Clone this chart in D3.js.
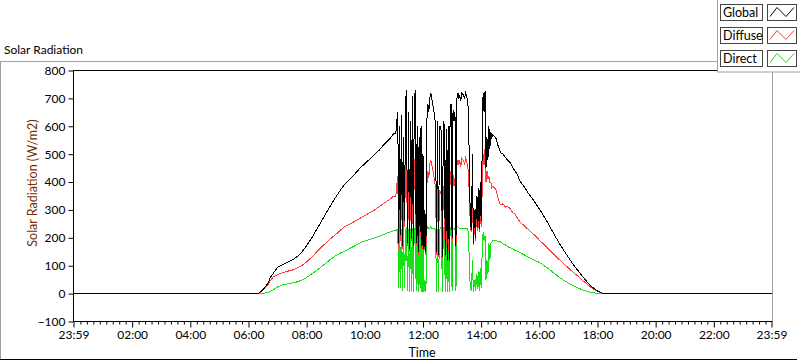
<!DOCTYPE html>
<html><head><meta charset="utf-8">
<script src="https://cdn.jsdelivr.net/npm/d3@7"></script>
<style>
body{margin:0;background:#fff;}
svg{display:block;font-family:Lato,"Noto Sans",sans-serif;}
</style></head>
<body><svg id="chart" width="800" height="361"></svg>
<script>
// ---- data (time in minutes after midnight) ----
const xTickLabels = ["23:59","02:00","04:00","06:00","08:00","10:00","12:00","14:00","16:00","18:00","20:00","22:00","23:59"];
const xTickValues = [-1,120,240,360,480,600,720,840,960,1080,1200,1320,1439];
const yTickValues = [-100,0,100,200,300,400,500,600,700,800];
const seriesNames = ["Global","Diffuse","Direct"];
const seriesColors = ["#000000","#ff3c3c","#16e016"];

const riseTimes   = [-1,375,380,390,400,405,410,415,420,430,440,450,460,470,480,490,500,510,520,530,540,550,560,570,580,590,600,610,620,630,640,650,660];
const riseGlobal  = [0,0,0,14,36,58,70,82,95,104,112,120,132,148,172,198,228,258,288,318,346,372,395,412,430,450,466,482,498,515,536,552,574];
const riseDiffuse = [0,0,0,12,30,46,58,64,68,75,80,84,91,101,114,130,148,166,182,198,212,228,242,250,260,270,280,290,300,312,325,336,350];
const riseDirect  = [0,0,0,1,4,8,12,18,24,31,35,38,42,48,58,70,82,96,110,124,136,146,153,163,172,182,188,194,200,206,213,220,226];

// cloudy period, 2-minute samples from 11:04 to 14:24
const spikeStart = 664, spikeStep = 2;
const spikeGlobal  = [575,620,650,180,600,210,640,170,560,260,690,730,180,650,160,620,200,710,170,680,
                      730,180,600,150,560,220,600,170,500,160,300,150,620,680,650,700,720,700,680,660,
                      640,600,150,620,140,600,600,580,130,620,600,140,590,120,600,120,660,680,200,660,
                      620,650,170,700,720,700,710,690,720,715,710,700,720,710,690,650,400,250,230,500,
                      180,300,200,350,240,380,230,400,260,500,720,650,725,450,560,480,600,520,580,560,570];
const spikeDiffuse = [350,390,420,160,370,190,410,160,330,240,460,495,170,420,150,390,190,475,160,445,
                      495,170,365,140,330,200,370,160,300,150,250,140,390,440,415,465,480,465,445,425,
                      410,370,140,390,130,370,365,350,125,385,370,130,360,115,365,115,425,440,190,425,
                      385,415,160,460,480,465,475,455,485,480,475,465,485,475,460,430,330,230,220,380,
                      175,250,190,280,225,300,220,310,240,360,500,460,520,400,440,410,420,400,400,380,385];
const spikeDirect  = [225,230,230,20,230,20,230,10,230,20,230,235,10,230,5,230,10,235,5,235,
                      235,10,235,5,230,20,230,5,200,5,50,5,230,240,235,235,240,235,235,235,
                      230,230,5,230,5,230,235,230,5,235,230,5,230,5,235,5,235,240,10,235,
                      235,235,10,240,240,235,235,235,235,235,235,235,235,235,230,220,70,20,10,120,
                      5,50,10,70,15,80,10,90,20,140,220,190,205,50,120,70,180,120,180,185,190];

const fallTimes   = [870,875,880,885,890,895,900,905,910,915,920,930,940,950,960,970,980,990,1000,1010,1020,1030,1040,1050,1060,1070,1080,1090,1095,1439];
const fallGlobal  = [560,530,505,500,488,478,470,452,440,425,404,380,353,330,304,276,246,214,184,156,130,104,82,60,39,22,9,2,0,0];
const fallDiffuse = [375,340,318,322,310,312,305,290,285,270,257,242,225,210,192,175,158,140,124,108,92,76,62,46,32,18,8,2,0,0];
const fallDirect  = [190,188,185,178,175,168,165,160,155,152,147,138,128,120,112,100,88,74,60,48,38,28,20,13,7,3,1,0,0,0];

// ---- assemble series ----
const spikeTimes = spikeGlobal.map((_, i) => spikeStart + i * spikeStep);
function build(rise, spike, fall) {
  const pts = [];
  riseTimes.forEach((t, i) => pts.push([t, rise[i]]));
  spikeTimes.forEach((t, i) => pts.push([t, spike[i]]));
  fallTimes.forEach((t, i) => pts.push([t, fall[i]]));
  return pts;
}
const series = [
  build(riseGlobal, spikeGlobal, fallGlobal),
  build(riseDiffuse, spikeDiffuse, fallDiffuse),
  build(riseDirect, spikeDirect, fallDirect)
];

// ---- drawing ----
const FONT = "Lato";
const svg = d3.select("#chart");
const x = d3.scaleLinear().domain([-1, 1439]).range([73.5, 771.5]);
const y = d3.scaleLinear().domain([-100, 800]).range([321.5, 70.5]);

// outer frame
svg.append("line").attr("x1",0).attr("x2",717).attr("y1",61.5).attr("y2",61.5).attr("stroke","#a0a0a0");
svg.append("line").attr("x1",0.5).attr("x2",0.5).attr("y1",61.5).attr("y2",360).attr("stroke","#a0a0a0");
svg.append("line").attr("x1",0).attr("x2",797).attr("y1",359.5).attr("y2",359.5).attr("stroke","#000");
svg.append("text").attr("x",4).attr("y",54).attr("font-size",12).attr("font-family",FONT).attr("fill","#000").text("Solar Radiation");

// plot frame
svg.append("line").attr("x1",73.5).attr("x2",772.5).attr("y1",70.5).attr("y2",70.5).attr("stroke","#000");
svg.append("line").attr("x1",772.5).attr("x2",772.5).attr("y1",70.5).attr("y2",321.5).attr("stroke","#a0a0a0");

// clip
svg.append("clipPath").attr("id","clip").append("rect")
  .attr("x",74).attr("y",71).attr("width",698).attr("height",250);

const line = d3.line().x(d => x(d[0])).y(d => y(d[1]));
const g = svg.append("g").attr("clip-path","url(#clip)");
[2,1,0].forEach(i => {
  g.append("path").datum(series[i]).attr("d", line)
    .attr("fill","none").attr("stroke",seriesColors[i]).attr("stroke-width",1)
    .attr("shape-rendering","crispEdges");
});

// y axis
const yAxis = d3.axisLeft(y).tickValues(yTickValues).tickSize(5).tickPadding(3).tickFormat(d3.format("d"));
const ya = svg.append("g").attr("transform","translate(73.5,0)").call(yAxis);
ya.select(".domain").attr("d","M0,70.5V321.5").attr("stroke","#000");
ya.selectAll("text").attr("font-size",12).attr("font-family",FONT).attr("fill","#000");
ya.selectAll(".tick line").attr("stroke","#000");

// x axis
const minor = [];
for (let k = 1; k < 108; k++) { if (k % 9 !== 0) minor.push(k * 120 / 9); }
const xMinor = d3.axisBottom(x).tickValues(minor).tickSize(3).tickFormat("");
svg.append("g").attr("transform","translate(0,321.5)").call(xMinor)
  .call(s => s.select(".domain").remove());
const xAxis = d3.axisBottom(x).tickValues(xTickValues).tickSize(6).tickPadding(3)
  .tickFormat((d, i) => xTickLabels[i]);
const xa = svg.append("g").attr("transform","translate(0,321.5)").call(xAxis);
xa.select(".domain").attr("d","M73.5,0H772.5").attr("stroke","#000");
xa.selectAll("text").attr("font-size",12).attr("font-family",FONT).attr("fill","#000");

// axis titles
svg.append("text").attr("x",422).attr("y",357).attr("text-anchor","middle")
  .attr("font-size",12.5).attr("font-family",FONT).attr("fill","#000").text("Time");
svg.append("text").attr("transform","translate(37,183) rotate(-90)").attr("text-anchor","middle")
  .attr("font-size",12.5).attr("font-family",FONT).attr("fill","#7a2e00").text("Solar Radiation (W/m2)");

// legend
const lg = svg.append("g");
lg.append("rect").attr("x",717.5).attr("y",-1).attr("width",90).attr("height",73)
  .attr("fill","#fff").attr("stroke","#a0a0a0");
seriesNames.forEach((name, i) => {
  const oy = 4.5 + i * 23;
  lg.append("rect").attr("x",720.5).attr("y",oy).attr("width",42).attr("height",16)
    .attr("fill","#fff").attr("stroke","#444");
  lg.append("text").attr("x",723).attr("y",oy + 12.5).attr("font-size",12.5).attr("font-family",FONT).attr("fill","#000").text(name);
  lg.append("rect").attr("x",767.5).attr("y",oy).attr("width",29).attr("height",16)
    .attr("fill","#fff").attr("stroke","#444");
  lg.append("path").attr("d",`M770,${oy+12}L777,${oy+3}L786,${oy+12}L794,${oy+3}`)
    .attr("fill","none").attr("stroke",seriesColors[i]);
});
</script></body></html>
